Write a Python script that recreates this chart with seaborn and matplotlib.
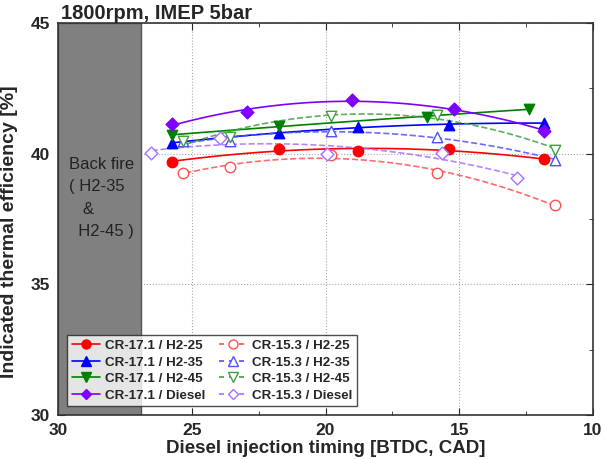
import numpy as np
import pandas as pd
import matplotlib
matplotlib.use("Agg")
import matplotlib.pyplot as plt
from matplotlib.lines import Line2D
from matplotlib.ticker import MultipleLocator
import seaborn as sns

# ---------------------------------------------------------------
# datos (timing BTDC [CAD], ITE [%])
# ---------------------------------------------------------------
t_171 = [25.75, 21.75, 18.8, 15.37, 11.83]
ite_171_h2_25 = [39.69, 40.17, 40.10, 40.17, 39.78]
ite_171_h2_35 = [40.41, 40.79, 41.02, 41.10, 41.18]
t_171_h2_45 = [25.75, 21.75, 16.2, 12.39]
ite_171_h2_45 = [40.71, 41.06, 41.41, 41.71]
t_171_diesel = [25.75, 22.95, 19.0, 15.19, 11.83]
ite_171_diesel = [41.13, 41.59, 42.05, 41.71, 40.87]

t_153 = [25.34, 23.56, 19.8, 15.82, 11.42]
ite_153_h2_25 = [39.26, 39.49, 39.95, 39.26, 38.03]
ite_153_h2_35 = [40.48, 40.48, 40.87, 40.64, 39.76]
ite_153_h2_45 = [40.48, 40.64, 41.44, 41.48, 40.14]
t_153_diesel = [26.53, 23.96, 19.96, 15.63, 12.84]
ite_153_diesel = [40.02, 40.60, 39.99, 40.02, 39.07]

backfire_limit = 26.9

series = [
    # label, x, y, color, marker, filled, dashed
    ("CR-17.1 / H2-25", t_171, ite_171_h2_25, "#ff0000", "o", True, False),
    ("CR-17.1 / H2-35", t_171, ite_171_h2_35, "#0000ff", "^", True, False),
    ("CR-17.1 / H2-45", t_171_h2_45, ite_171_h2_45, "#008000", "v", True, False),
    ("CR-17.1 / Diesel", t_171_diesel, ite_171_diesel, "#8000ff", "D", True, False),
    ("CR-15.3 / H2-25", t_153, ite_153_h2_25, "#ff5050", "o", False, True),
    ("CR-15.3 / H2-35", t_153, ite_153_h2_35, "#5050ff", "^", False, True),
    ("CR-15.3 / H2-45", t_153, ite_153_h2_45, "#40a040", "v", False, True),
    ("CR-15.3 / Diesel", t_153_diesel, ite_153_diesel, "#a870ff", "D", False, True),
]

sns.set_style("ticks")
plt.rcParams["font.family"] = ["Liberation Sans", "DejaVu Sans"]

fig = plt.figure(figsize=(6.04, 4.59), dpi=100)
ax = fig.add_axes([58 / 604, 44 / 459, 535 / 604, 392 / 459])

# zona de back fire
ax.axvspan(30, backfire_limit, color="#808080", ec="#555555", lw=1, zorder=1)
ax.text(29.6, 38.3, "Back fire\n( H2-35\n   &\n  H2-45 )", fontsize=12,
        color="#222222", va="center", ha="left", linespacing=1.6, zorder=2)

handles = []
for label, x, y, col, mk, filled, dashed in series:
    df = pd.DataFrame({"x": x, "y": y})
    ls = "--" if dashed else "-"
    sns.regplot(data=df, x="x", y="y", order=2, ci=None, scatter=False, ax=ax,
                line_kws=dict(color=col, lw=1.2, ls=ls, alpha=0.85 if dashed else 1, zorder=3))
    face = col if filled else "white"
    ms = 7.5 if mk != "D" else 6.5
    sns.scatterplot(data=df, x="x", y="y", ax=ax, marker=mk, s=ms ** 2,
                    color=face, edgecolor=col, linewidth=1.0, zorder=4)
    handles.append(Line2D([], [], color=col, ls=(0, (3, 3)) if dashed else "-", lw=1.2,
                          marker=mk, ms=ms - 1, mfc=face, mec=col, label=label))

ax.set_xlim(30, 10)
ax.set_ylim(30, 45)
ax.xaxis.set_major_locator(MultipleLocator(5))
ax.xaxis.set_minor_locator(MultipleLocator(2.5))
ax.yaxis.set_major_locator(MultipleLocator(5))
ax.yaxis.set_minor_locator(MultipleLocator(2.5))
ax.tick_params(which="both", direction="in", top=True, right=True, labelsize=12.5)
ax.tick_params(which="major", length=5, pad=6)
ax.tick_params(which="minor", length=3)
for lab in ax.get_xticklabels() + ax.get_yticklabels():
    lab.set_fontweight("bold")
ax.grid(True, which="major", ls=":", color="#aaaaaa", lw=0.8)
for sp in ax.spines.values():
    sp.set_linewidth(1.2)
    sp.set_color("#333333")

ax.set_xlabel("Diesel injection timing [BTDC, CAD]", fontsize=13.5, fontweight="bold", labelpad=1)
ax.set_ylabel("Indicated thermal efficiency [%]", fontsize=14, fontweight="bold")
ax.yaxis.set_label_coords(-0.075, 0.467)
ax.set_title("1800rpm, IMEP 5bar", fontsize=14.5, fontweight="bold", loc="left", pad=2, x=0.006)

leg = ax.legend(handles=handles, ncol=2, loc="lower left", bbox_to_anchor=(0.005, 0.005),
                prop=dict(size=9.6, weight="bold"), frameon=True, fancybox=False,
                edgecolor="#222222", handlelength=2.1, columnspacing=1.0,
                borderpad=0.35, labelspacing=0.32, handletextpad=0.4)
leg.get_frame().set_linewidth(1.0)

fig.savefig("out.png", dpi=100)
